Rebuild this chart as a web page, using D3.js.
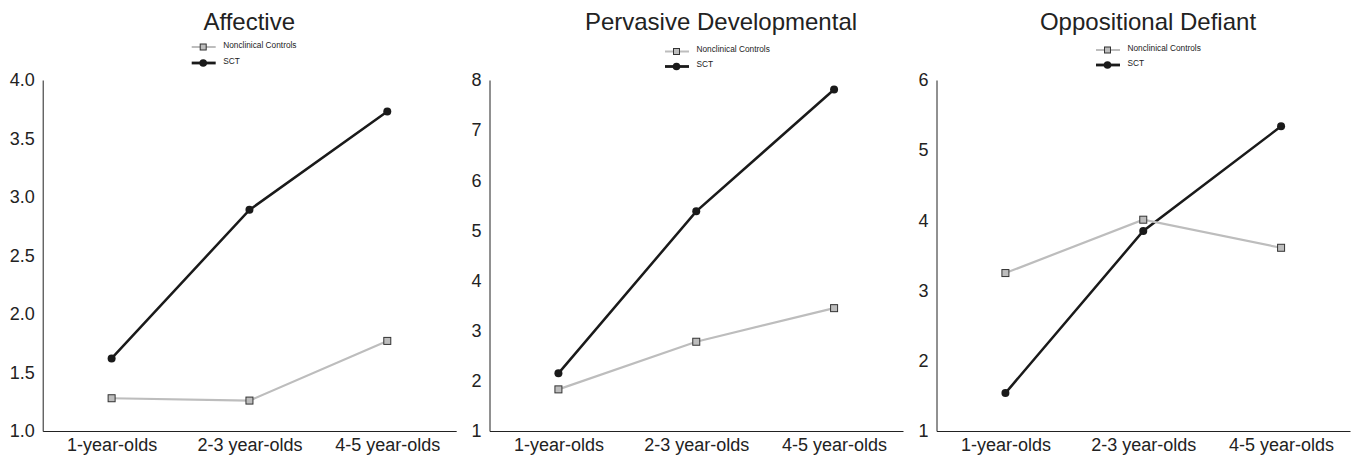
<!DOCTYPE html>
<html>
<head>
<meta charset="utf-8">
<script src="https://cdn.jsdelivr.net/npm/d3@7"></script>
<style>
  body { margin: 0; background: #fff; }
  text { font-family: "Liberation Sans", Arial, sans-serif; fill: #222; }
</style>
</head>
<body>
<div id="chart"></div>
<script>
// data
const ageGroups = ["1-year-olds", "2-3 year-olds", "4-5 year-olds"];
const panelTitles = ["Affective", "Pervasive Developmental", "Oppositional Defiant"];
const seriesNames = ["Nonclinical Controls", "SCT"];
const yDomains = [[1, 4], [1, 8], [1, 6]];
const yTicks = [[1, 1.5, 2, 2.5, 3, 3.5, 4], [1, 2, 3, 4, 5, 6, 7, 8], [1, 2, 3, 4, 5, 6]];
const controlsValues = [[1.28, 1.26, 1.77], [1.83, 2.78, 3.45], [3.25, 4.01, 3.61]];
const sctValues = [[1.62, 2.89, 3.73], [2.15, 5.38, 7.81], [1.54, 3.85, 5.34]];

const W = 1352, H = 458;
const panelLeft = [42.7, 489.5, 936.5];
const panelWidth = 413.5;
const plotTop = 80, plotBottom = 431;
// title centre and legend start, relative to each panel's y axis
const titleOffset = [206.5, 231.5, 211.5];
const legendOffset = [149, 175.5, 159.5];
const legendY = [[47, 63], [51.5, 66.5], [50, 65]];

const svg = d3.select("#chart").append("svg")
  .attr("width", W)
  .attr("height", H);

const styles = [
  {line: "#bdbdbd", width: 2.2, marker: "square"},
  {line: "#1a1a1a", width: 2.5, marker: "circle"}
];

function drawMarker(g, type, x, y, small) {
  if (type === "square") {
    const s = small ? 6 : 7;
    g.append("rect")
      .attr("x", x - s / 2).attr("y", y - s / 2)
      .attr("width", s).attr("height", s)
      .attr("fill", "#bdbdbd")
      .attr("stroke", "#333")
      .attr("stroke-width", 1);
  } else {
    g.append("circle")
      .attr("cx", x).attr("cy", y)
      .attr("r", small ? 3.8 : 4)
      .attr("fill", "#1a1a1a");
  }
}

panelTitles.forEach((title, i) => {
  const g = svg.append("g").attr("transform", `translate(${panelLeft[i]},0)`);

  const x = d3.scalePoint()
    .domain(ageGroups)
    .range([0, panelWidth])
    .padding(0.5);

  const y = d3.scaleLinear()
    .domain(yDomains[i])
    .range([plotBottom, plotTop]);

  // axes: plain lines, no tick marks
  const yAxis = g.append("g")
    .call(d3.axisLeft(y).tickValues(yTicks[i]).tickSize(0).tickPadding(8)
      .tickFormat(i === 0 ? d3.format(".1f") : d3.format("d")));
  yAxis.select(".domain").attr("stroke", "#222").attr("stroke-width", 1);
  yAxis.selectAll("text").style("font-size", "18px").attr("fill", "#222");

  const xAxis = g.append("g")
    .attr("transform", `translate(0,${plotBottom})`)
    .call(d3.axisBottom(x).tickSize(0).tickPadding(7).tickSizeOuter(0));
  xAxis.select(".domain").attr("stroke", "#222").attr("stroke-width", 1);
  xAxis.selectAll("text").style("font-size", "18px").attr("fill", "#222");

  g.append("text")
    .attr("x", titleOffset[i])
    .attr("y", 30)
    .attr("text-anchor", "middle")
    .style("font-size", "24px")
    .text(title);

  const line = d3.line()
    .x((d, j) => x(ageGroups[j]))
    .y(d => y(d));

  [sctValues[i], controlsValues[i]].forEach((vals, k) => {
    const st = k === 0 ? styles[1] : styles[0];
    g.append("path")
      .datum(vals)
      .attr("d", line)
      .attr("fill", "none")
      .attr("stroke", st.line)
      .attr("stroke-width", st.width);
    vals.forEach((v, j) => drawMarker(g, st.marker, x(ageGroups[j]), y(v), false));
  });

  // legend
  seriesNames.forEach((name, k) => {
    const st = styles[k];
    const ly = legendY[i][k];
    const lx = legendOffset[i];
    g.append("line")
      .attr("x1", lx).attr("x2", lx + 24)
      .attr("y1", ly).attr("y2", ly)
      .attr("stroke", st.line)
      .attr("stroke-width", k === 0 ? 2 : 2.8);
    drawMarker(g, st.marker, lx + 11.5, ly, true);
    g.append("text")
      .attr("x", lx + 31.5)
      .attr("y", ly - 2)
      .attr("dy", "0.35em")
      .style("font-size", "8.3px")
      .text(name);
  });
});
</script>
</body>
</html>
